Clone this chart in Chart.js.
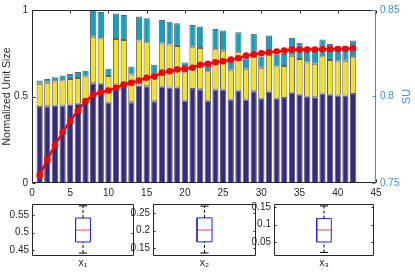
<!DOCTYPE html>
<html lang="en">
  <head>
    <meta charset="UTF-8" />
    <style>
      body { margin: 0; background: #fff; }
      #wrap { position: relative; width: 415px; height: 272px; }
      #wrap canvas { position: absolute; }
    </style>
  </head>
  <body>
    <div id="wrap">
      <canvas id="main" width="415" height="200" style="left:0;top:0"></canvas>
      <canvas id="box0"></canvas>
      <canvas id="box1"></canvas>
      <canvas id="box2"></canvas>
    </div>
    <script src="https://cdn.jsdelivr.net/npm/chart.js@4.4.0/dist/chart.umd.min.js"></script>
    <script>
      // run index on the x axis
      var runs = [1, 2, 3, 4, 5, 6, 7, 8, 9, 10, 11, 12, 13, 14, 15, 16, 17, 18, 19, 20, 21,
        22, 23, 24, 25, 26, 27, 28, 29, 30, 31, 32, 33, 34, 35, 36, 37, 38, 39, 40, 41, 42];
      // stacked bar parts (bottom, middle, top)
      var partBottom = [0.439, 0.443, 0.446, 0.448, 0.454, 0.458, 0.462, 0.577, 0.573, 0.464,
        0.569, 0.563, 0.467, 0.563, 0.559, 0.473, 0.558, 0.552, 0.550, 0.477, 0.544, 0.542,
        0.477, 0.540, 0.539, 0.481, 0.535, 0.483, 0.531, 0.487, 0.529, 0.487, 0.492, 0.521,
        0.510, 0.498, 0.496, 0.517, 0.510, 0.506, 0.506, 0.515];
      var partMiddle = [0.134, 0.137, 0.140, 0.146, 0.147, 0.149, 0.153, 0.268, 0.264, 0.155,
        0.264, 0.264, 0.160, 0.260, 0.254, 0.161, 0.249, 0.248, 0.242, 0.163, 0.244, 0.239,
        0.169, 0.233, 0.226, 0.173, 0.221, 0.177, 0.215, 0.179, 0.212, 0.186, 0.185, 0.215,
        0.207, 0.198, 0.193, 0.215, 0.201, 0.196, 0.200, 0.212];
      var partTop = [0.019, 0.021, 0.025, 0.027, 0.029, 0.035, 0.034, 0.155, 0.152, 0.041,
        0.147, 0.144, 0.046, 0.140, 0.139, 0.049, 0.135, 0.132, 0.131, 0.056, 0.125, 0.123,
        0.037, 0.117, 0.116, 0.057, 0.115, 0.060, 0.116, 0.065, 0.111, 0.068, 0.069, 0.104,
        0.093, 0.075, 0.082, 0.098, 0.093, 0.088, 0.088, 0.096];
      // SU curve (right axis)
      var su = [0.7544, 0.7635, 0.7718, 0.7793, 0.7858, 0.7919, 0.7973, 0.8010, 0.8025, 0.8035,
        0.8050, 0.8069, 0.8079, 0.8092, 0.8108, 0.8115, 0.8138, 0.8146, 0.8156, 0.8160, 0.8166,
        0.8183, 0.8189, 0.8198, 0.8204, 0.8213, 0.8221, 0.8236, 0.8242, 0.8250, 0.8256, 0.8260,
        0.8265, 0.8271, 0.8271, 0.8272, 0.8272, 0.8273, 0.8273, 0.8274, 0.8275, 0.8279];
      var xTicks = [0, 5, 10, 15, 20, 25, 30, 35, 40, 45];
      var leftTicks = [0, 0.5, 1];
      var rightTicks = [0.75, 0.8, 0.85];

      // box plots
      var boxNames = ["x\u2081", "x\u2082", "x\u2083"];
      var boxLow = [0.4423, 0.1353, 0.0203];
      var boxQ1 = [0.4737, 0.1676, 0.05];
      var boxMed = [0.5074, 0.202, 0.0846];
      var boxQ3 = [0.5414, 0.2373, 0.1174];
      var boxHigh = [0.5757, 0.2716, 0.1538];
      var boxYMin = [0.434, 0.1265, 0.0099];
      var boxYMax = [0.581, 0.2776, 0.1593];
      var boxTicks = [[0.45, 0.5, 0.55], [0.15, 0.2, 0.25], [0.05, 0.1, 0.15]];

      var ink = "#262626";
      var blue = "#3a8fd3";
      var fam = "'Liberation Sans', Arial, Helvetica, sans-serif";
      Chart.defaults.font.family = fam;
      Chart.defaults.font.size = 10;
      Chart.defaults.color = ink;

      function pts(ys) {
        return runs.map(function (x, i) { return { x: x, y: ys[i] }; });
      }

      // MATLAB-like box with inward tick marks
      var axesBox = {
        id: "axesBox",
        afterDatasetsDraw: function (chart, args, o) {
          var ctx = chart.ctx, a = chart.chartArea;
          var L = Math.round(a.left) + 0.5, R = Math.round(a.right) - 0.5;
          var T = Math.round(a.top) + 0.5, B = Math.round(a.bottom) - 0.5;
          var len = o.tick;
          ctx.save();
          ctx.lineWidth = 1;
          ctx.strokeStyle = ink;
          ctx.beginPath();
          ctx.moveTo(R, T); ctx.lineTo(L, T); ctx.lineTo(L, B); ctx.lineTo(R, B);
          if (!o.rightColor) ctx.lineTo(R, T);
          if (o.xTicks) {
            chart.scales.x.ticks.forEach(function (t) {
              var p = Math.round(chart.scales.x.getPixelForValue(t.value)) + 0.5;
              ctx.moveTo(p, B); ctx.lineTo(p, B - len);
              ctx.moveTo(p, T); ctx.lineTo(p, T + len);
            });
          }
          chart.scales.y.ticks.forEach(function (t) {
            var p = Math.round(chart.scales.y.getPixelForValue(t.value)) + 0.5;
            ctx.moveTo(L, p); ctx.lineTo(L + len, p);
            if (!o.rightColor) { ctx.moveTo(R, p); ctx.lineTo(R - len, p); }
          });
          ctx.stroke();
          if (o.rightColor) {
            var s = chart.scales.y1;
            ctx.strokeStyle = o.rightColor;
            ctx.beginPath();
            ctx.moveTo(R, T); ctx.lineTo(R, B);
            s.ticks.forEach(function (t) {
              var p = Math.round(s.getPixelForValue(t.value)) + 0.5;
              ctx.moveTo(R, p); ctx.lineTo(R - len, p);
            });
            ctx.stroke();
            // right axis name, reading upwards
            ctx.fillStyle = o.rightColor;
            ctx.font = "11px " + fam;
            ctx.textAlign = "center";
            ctx.textBaseline = "middle";
            ctx.translate(407, (a.top + a.bottom) / 2);
            ctx.rotate(-Math.PI / 2);
            ctx.fillText("SU", 0, 0);
          }
          ctx.restore();
        }
      };

      new Chart(document.getElementById("main"), {
        data: {
          datasets: [
            { type: "line", data: pts(su), yAxisID: "y1", order: 0,
              borderColor: "#ff0000", backgroundColor: "#ff0000", borderWidth: 2.5,
              pointRadius: 3.3, pointBorderWidth: 0, pointBackgroundColor: "#ff0000" },
            { type: "bar", data: pts(partBottom), backgroundColor: "#352a87", order: 1 },
            { type: "bar", data: pts(partMiddle), backgroundColor: "#f5e21c", order: 1 },
            { type: "bar", data: pts(partTop), backgroundColor: "#0ba4c8", order: 1 }
          ]
        },
        options: {
          responsive: false,
          animation: false,
          datasets: {
            bar: { categoryPercentage: 1, barPercentage: 0.82, borderWidth: 1,
              borderColor: "rgba(30,30,30,0.7)", borderSkipped: false }
          },
          layout: { padding: { top: 9, left: 0, right: 0, bottom: 0 } },
          plugins: { legend: { display: false }, tooltip: { enabled: false },
            axesBox: { tick: 3, xTicks: true, rightColor: blue } },
          scales: {
            x: { type: "linear", min: 0, max: 45, stacked: true, offset: false,
              grid: { display: false, drawTicks: false, offset: false }, border: { display: false },
              afterBuildTicks: function (s) { s.ticks = xTicks.map(function (v) { return { value: v }; }); },
              ticks: { padding: 4, maxRotation: 0, autoSkip: false },
              afterFit: function (s) { s.height = 17; } },
            y: { position: "left", min: 0, max: 1, stacked: true,
              grid: { display: false, drawTicks: false }, border: { display: false },
              afterBuildTicks: function (s) { s.ticks = leftTicks.map(function (v) { return { value: v }; }); },
              ticks: { padding: 4, callback: function (v) { return String(v); } },
              title: { display: true, text: "Normalized Unit Size", font: { size: 10.5 },
                padding: { top: 1, bottom: 0 } },
              afterFit: function (s) { s.width = 32; } },
            y1: { position: "right", min: 0.75, max: 0.85,
              grid: { display: false, drawTicks: false }, border: { display: false },
              afterBuildTicks: function (s) { s.ticks = rightTicks.map(function (v) { return { value: v }; }); },
              ticks: { padding: 4, color: blue, callback: function (v) { return String(v); } },
              afterFit: function (s) { s.width = 39; } }
          }
        },
        plugins: [axesBox]
      });

      // box subplot placement
      var boxLeft = [32, 153, 274];
      var boxWidth = [102, 103, 100];
      var boxHalf = 0.073, capHalf = 0.04;

      boxNames.forEach(function (name, k) {
        var cv = document.getElementById("box" + k);
        cv.width = 32 + boxWidth[k] + 5;
        cv.height = 82;
        cv.style.left = (boxLeft[k] - 32) + "px";
        cv.style.top = "190px";
        var line = function (d, color, dash) {
          return { type: "line", data: d, borderColor: color, borderWidth: 1, pointRadius: 0,
            borderDash: dash || [], fill: false };
        };
        new Chart(cv, {
          data: {
            datasets: [
              line([{ x: 1, y: boxQ3[k] }, { x: 1, y: boxHigh[k] }], "#000", [3, 2]),
              line([{ x: 1, y: boxLow[k] }, { x: 1, y: boxQ1[k] }], "#000", [3, 2]),
              line([{ x: 1 - capHalf, y: boxHigh[k] }, { x: 1 + capHalf, y: boxHigh[k] }], "#000"),
              line([{ x: 1 - capHalf, y: boxLow[k] }, { x: 1 + capHalf, y: boxLow[k] }], "#000"),
              line([{ x: 1 - boxHalf, y: boxQ1[k] }, { x: 1 + boxHalf, y: boxQ1[k] },
                { x: 1 + boxHalf, y: boxQ3[k] }, { x: 1 - boxHalf, y: boxQ3[k] },
                { x: 1 - boxHalf, y: boxQ1[k] }], "#2020ff"),
              line([{ x: 1 - boxHalf, y: boxMed[k] }, { x: 1 + boxHalf, y: boxMed[k] }], "#ff4040")
            ]
          },
          options: {
            responsive: false,
            animation: false,
            layout: { padding: { top: 14, right: 5, left: 0, bottom: 0 } },
            plugins: { legend: { display: false }, tooltip: { enabled: false },
              axesBox: { tick: 2, xTicks: false } },
            scales: {
              x: { type: "linear", min: 0.5, max: 1.5,
                grid: { display: false, drawTicks: false }, border: { display: false },
                ticks: { display: false },
                title: { display: true, text: name, font: { size: 10.5 }, color: ink,
                  padding: { top: 0, bottom: 3 } },
                afterFit: function (s) { s.height = 16; } },
              y: { min: boxYMin[k], max: boxYMax[k],
                grid: { display: false, drawTicks: false }, border: { display: false },
                afterBuildTicks: function (s) { s.ticks = boxTicks[k].map(function (v) { return { value: v }; }); },
                ticks: { padding: 3, callback: function (v) { return String(v); } },
                afterFit: function (s) { s.width = 32; } }
            }
          },
          plugins: [axesBox]
        });
      });
    </script>
  </body>
</html>
